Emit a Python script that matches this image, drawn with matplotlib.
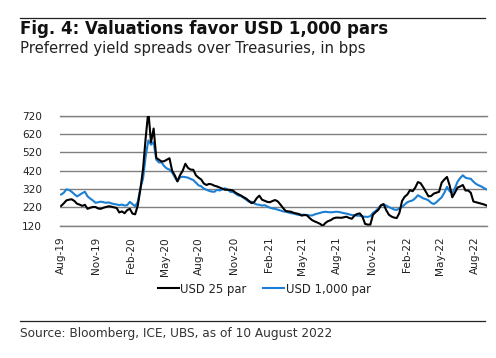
import matplotlib
matplotlib.use("Agg")
import matplotlib.pyplot as plt
from matplotlib.lines import Line2D
import pandas as pd

# ---- data (weekly) ----
start_date = "2019-08-01"
usd25 = [228, 242, 258, 262, 264, 255, 240, 235, 228, 234,
         212, 218, 222, 222, 214, 212, 218, 222, 226, 224,
         220, 217, 192, 198, 188, 205, 212, 186, 182, 230,
         320, 430, 600, 745, 575, 650, 490, 480, 470, 472,
         480, 488, 420, 395, 362, 396, 420, 458, 435, 426,
         425, 395, 382, 372, 350, 342, 348, 345, 338, 334,
         328, 322, 316, 316, 315, 312, 300, 292, 285, 276,
         268, 256, 243, 248, 270, 284, 262, 256, 250, 248,
         255, 260, 252, 235, 216, 200, 198, 196, 190, 187,
         184, 175, 178, 177, 162, 150, 143, 137, 130, 119,
         135, 145, 150, 160, 164, 164, 163, 166, 169, 162,
         158, 175, 184, 187, 170, 130, 126, 126, 180, 194,
         206, 230, 238, 205, 180, 170, 164, 162, 190, 255,
         278, 290, 314, 308, 328, 358, 352, 330, 305, 280,
         282, 295, 300, 305, 355, 372, 386, 340, 275, 300,
         328, 334, 342, 312, 312, 300, 252, 248, 244, 240,
         236, 230]
usd1000 = [290, 300, 318, 315, 305, 292, 280, 288, 298, 305,
           280, 268, 258, 245, 248, 251, 248, 245, 247, 242,
           238, 236, 232, 235, 230, 232, 250, 238, 226, 250,
           325, 378, 500, 585, 562, 575, 480, 465, 465, 445,
           432, 426, 410, 385, 362, 384, 387, 385, 382, 375,
           369, 355, 340, 335, 322, 316, 310, 306, 305, 316,
           312, 318, 324, 318, 305, 304, 295, 285, 282, 272,
           262, 251, 251, 242, 236, 234, 230, 232, 225, 218,
           214, 212, 207, 203, 198, 196, 192, 188, 186, 182,
           178, 180, 180, 178, 176, 176, 182, 186, 190, 194,
           196, 194, 193, 194, 196, 195, 192, 188, 186, 182,
           178, 177, 175, 174, 170, 169, 168, 172, 190, 200,
           215, 232, 236, 230, 222, 215, 208, 206, 215, 222,
           235, 248, 254, 258, 270, 286, 278, 269, 265, 258,
           245, 238, 248, 262, 275, 300, 332, 308, 298, 325,
           360, 380, 395, 382, 378, 376, 360, 348, 340, 334,
           325, 318]
series_names = ["USD 25 par", "USD 1,000 par"]
y_ticks = [120, 220, 320, 420, 520, 620, 720]
tick_months = pd.date_range("2019-08-01", "2022-08-01", freq="3MS")

dates = pd.date_range(start_date, periods=len(usd25), freq="7D")

W, H = 496, 358
fig = plt.figure(figsize=(W / 100, H / 100), dpi=100)
plt.rcParams["font.family"] = ["DejaVu Sans"]
renderer = fig.canvas.get_renderer()


def fit(t, target_px):
    w = t.get_window_extent(renderer).width
    t.set_fontsize(t.get_fontsize() * target_px / w)


# decorative rules
fig.add_artist(Line2D([20 / W, 485 / W], [1 - 18 / H, 1 - 18 / H], color="#222222", lw=0.9))
fig.add_artist(Line2D([20 / W, 485 / W], [1 - 321 / H, 1 - 321 / H], color="#222222", lw=0.9))

t1 = fig.text(20 / W, 1 - 34.5 / H, "Fig. 4: Valuations favor USD 1,000 pars",
              fontsize=11, fontweight="bold", color="#111111", va="baseline")
t2 = fig.text(20 / W, 1 - 52.5 / H, "Preferred yield spreads over Treasuries, in bps",
              fontsize=10, color="#222222", va="baseline")
t3 = fig.text(20 / W, 1 - 337 / H, "Source: Bloomberg, ICE, UBS, as of 10 August 2022",
              fontsize=8.5, color="#333333", va="baseline")
fit(t1, 366)
fit(t2, 345)
fit(t3, 312)

ax = fig.add_axes([60 / W, 1 - 225.7 / H, (487 - 60) / W, (225.7 - 115.7) / H])
ax.plot(dates, usd25, color="black", lw=1.5, label=series_names[0], zorder=3)
ax.plot(dates, usd1000, color="#1B7FD3", lw=1.5, label=series_names[1], zorder=2)

ax.set_ylim(120, 720)
ax.set_yticks(y_ticks)
ax.set_xlim(pd.Timestamp("2019-07-29"), pd.Timestamp("2022-09-02"))
ax.set_xticks(tick_months)
ax.set_xticklabels([d.strftime("%b-%y") for d in tick_months], rotation=90, fontsize=7.6)
for lab in ax.get_yticklabels():
    lab.set_fontsize(7.6)
ax.tick_params(axis="both", length=0, colors="#222222")
ax.tick_params(axis="x", pad=8)
ax.tick_params(axis="y", pad=13)
ax.yaxis.grid(True, color="#808080", lw=1.0)
ax.set_axisbelow(True)
for s in ["left", "right"]:
    ax.spines[s].set_visible(False)
for s in ["top", "bottom"]:
    ax.spines[s].set_color("#808080")
    ax.spines[s].set_linewidth(1.0)

leg = fig.legend(handles=ax.get_lines(), labels=series_names, loc="center",
                 bbox_to_anchor=(264 / W, 1 - 289 / H), ncol=2, frameon=False,
                 prop={"size": 8.4}, handlelength=1.85, handletextpad=0.1,
                 columnspacing=1.4)
for t in leg.get_texts():
    t.set_color("#222222")

fig.savefig("out.png", dpi=100)
